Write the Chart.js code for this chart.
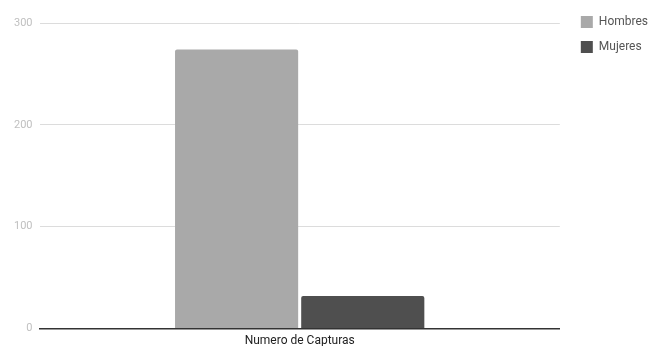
<!DOCTYPE html>
<html>
<head>
<meta charset="utf-8">
<script src="https://cdn.jsdelivr.net/npm/chart.js@4"></script>
<style>
  html, body { margin: 0; padding: 0; background: #fff; }
  #wrap { width: 664px; height: 346px; }
</style>
</head>
<body>
<div id="wrap"><canvas id="capturasChart"></canvas></div>
<script>
const categories = ['Numero de Capturas'];
const hombres = [274];
const mujeres = [32];
const yTicks = [0, 100, 200, 300];

const ctx = document.getElementById('capturasChart').getContext('2d');

new Chart(ctx, {
    type: 'bar',
    data: {
        labels: categories,
        datasets: [{
            label: 'Hombres',
            data: hombres,
            backgroundColor: '#a9a9a9',
            borderRadius: 2,
            borderSkipped: 'bottom'
        }, {
            label: 'Mujeres',
            data: mujeres,
            backgroundColor: '#4f4f4f',
            borderRadius: 2,
            borderSkipped: 'bottom'
        }]
    },
    options: {
        responsive: true,
        maintainAspectRatio: false,
        animation: false,
        layout: { padding: { left: 7, top: 3, right: 6, bottom: -7 } },
        datasets: { bar: { categoryPercentage: 0.485, barPercentage: 0.976 } },
        plugins: {
            // empty title only used as top spacing above the plot
            title: {
                display: true,
                text: '',
                fullSize: false,
                font: { size: 1 },
                padding: { top: 18.8, bottom: 0 }
            },
            legend: {
                position: 'right',
                align: 'start',
                labels: {
                    boxWidth: 12,
                    boxHeight: 12,
                    padding: 13,
                    color: '#555',
                    font: { family: 'Roboto', size: 12 }
                }
            },
            tooltip: { enabled: false }
        },
        scales: {
            x: {
                grid: { display: false, drawTicks: false },
                border: { color: '#333', width: 1.5 },
                ticks: { color: '#222', padding: 5, font: { family: 'Roboto', size: 12 } }
            },
            y: {
                min: 0,
                max: yTicks[yTicks.length - 1],
                afterBuildTicks: function (axis) {
                    axis.ticks = yTicks.map(v => ({ value: v }));
                },
                border: { display: false },
                grid: {
                    drawTicks: false,
                    color: c => c.tick.value === 0 ? '#333' : '#dcdcdc'
                },
                ticks: { color: '#c0c0c0', padding: 7, font: { family: 'Roboto', size: 11 } }
            },
            // blank axis, keeps a gap between plot and legend
            yGap: {
                position: 'right',
                grid: { display: false, drawTicks: false },
                border: { display: false },
                ticks: { display: false },
                afterFit: function (axis) { axis.width = 8; }
            }
        }
    }
});
</script>
</body>
</html>
